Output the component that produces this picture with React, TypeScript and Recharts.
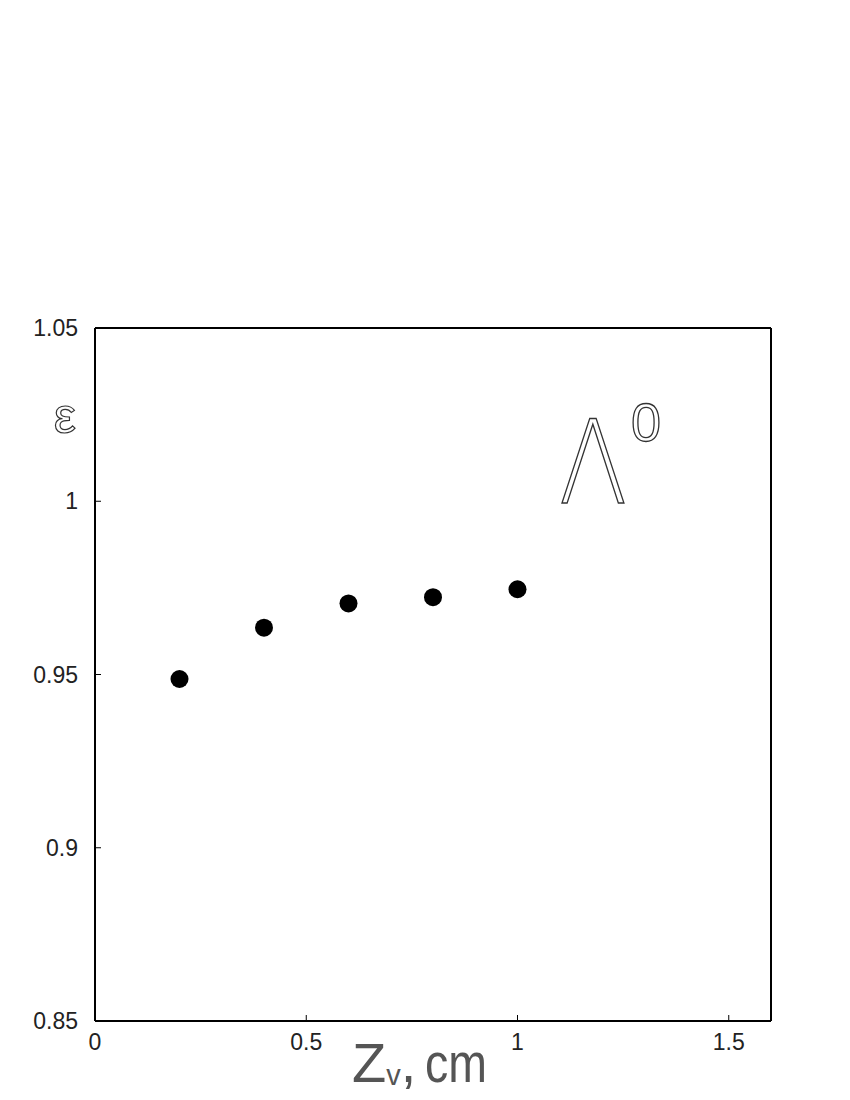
import React from 'react';
import { ScatterChart, Scatter, XAxis, YAxis } from 'recharts';

// vertex position z_v (cm) and efficiency
const zv = [0.2, 0.4, 0.6, 0.8, 1.0];
const eff = [0.9487, 0.9635, 0.9705, 0.9723, 0.9746];

const xTicks = [0, 0.5, 1, 1.5];
const xMinorTicks = [0.25, 0.75, 1.25];
const yTicks = [0.85, 0.9, 0.95, 1, 1.05];

const data = zv.map((z, i) => ({ z, e: eff[i] }));

const font = '"Liberation Sans", Arial, Helvetica, sans-serif';
const thinFont = '"DejaVu Sans", sans-serif';
const tickStyle = { fontFamily: font, fontSize: 23, fill: '#222' };

const Dot = (props: any) => <circle cx={props.cx} cy={props.cy} r={9} fill="#000" />;

const fmtY = (v: number) => (v === 1 ? '1' : String(v));

const App = () => {
  return (
    <div style={{ position: 'absolute', left: 0, top: 0, background: '#fff' }}>
      <ScatterChart width={850} height={1100} margin={{ top: 327, right: 78, bottom: 77, left: 94 }}>
        <XAxis
          type="number"
          dataKey="z"
          domain={[0, 1.6]}
          ticks={xTicks}
          allowDataOverflow
          height={1}
          tickSize={-6}
          tickMargin={19}
          tick={tickStyle}
          tickLine={{ stroke: '#000', strokeWidth: 1 }}
          axisLine={{ stroke: '#000', strokeWidth: 2 }}
        />
        <XAxis
          xAxisId="minor"
          type="number"
          domain={[0, 1.6]}
          ticks={xMinorTicks}
          allowDataOverflow
          height={1}
          tickSize={-5}
          tick={false}
          tickLine={{ stroke: '#000', strokeWidth: 1 }}
          axisLine={false}
        />
        <XAxis
          xAxisId="top"
          orientation="top"
          type="number"
          domain={[0, 1.6]}
          height={1}
          tick={false}
          tickLine={false}
          axisLine={{ stroke: '#000', strokeWidth: 2 }}
        />
        <YAxis
          type="number"
          dataKey="e"
          domain={[0.85, 1.05]}
          ticks={yTicks}
          allowDataOverflow
          width={1}
          tickSize={-6}
          tickMargin={23}
          tick={tickStyle}
          tickFormatter={fmtY}
          tickLine={{ stroke: '#000', strokeWidth: 1 }}
          axisLine={{ stroke: '#000', strokeWidth: 2 }}
        />
        <YAxis
          yAxisId="right"
          orientation="right"
          type="number"
          domain={[0.85, 1.05]}
          width={1}
          tick={false}
          tickLine={false}
          axisLine={{ stroke: '#000', strokeWidth: 2 }}
        />
        <Scatter data={data} shape={Dot} isAnimationActive={false} />

        {/* axis titles and particle label */}
        <text x={352} y={1082} fontFamily={font} fontSize={56} fill="#555">
          Z
          <tspan fontSize={29} dy={3}>v</tspan>
          <tspan dy={-3}>,</tspan>
        </text>
        <text x={425} y={1082} textLength={62} lengthAdjust="spacingAndGlyphs" fontFamily={font} fontSize={56} fill="#555">
          cm
        </text>
        <text x={65} y={433} textAnchor="middle" fontFamily={font} fontSize={50} fill="#fff" stroke="#333" strokeWidth={1.2}>
          ε
        </text>
        <text
          x={0}
          y={0}
          transform="translate(593,503) scale(0.86,1)"
          textAnchor="middle"
          fontFamily={thinFont}
          fontWeight={200}
          fontSize={116}
          fill="#fff"
          stroke="#333"
          strokeWidth={1.5}
        >
          Λ
        </text>
        <text x={646} y={441} textAnchor="middle" fontFamily={font} fontSize={54} fill="#fff" stroke="#333" strokeWidth={1.3}>
          0
        </text>
      </ScatterChart>
    </div>
  );
};

export default App;
